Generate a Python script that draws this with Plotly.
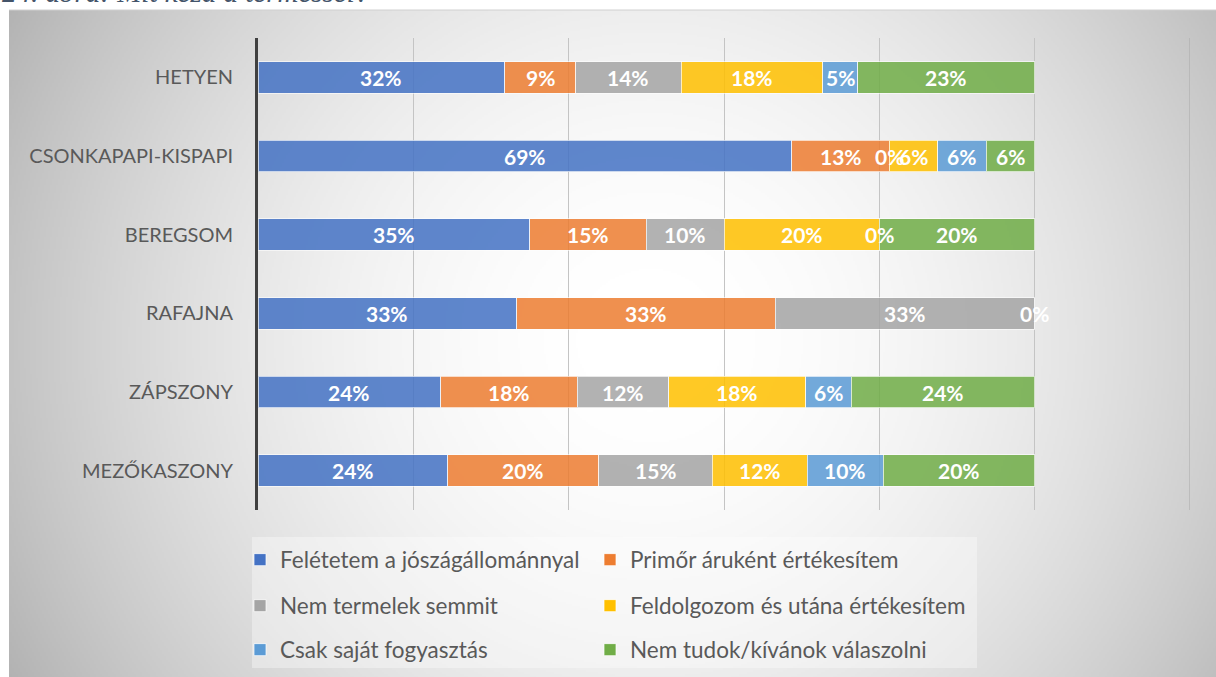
import base64, struct, zlib
import numpy as np
import plotly.graph_objects as go

# ---------------- data ----------------
categories = ["HETYEN", "CSONKAPAPI-KISPAPI", "BEREGSOM", "RAFAJNA", "ZÁPSZONY", "MEZŐKASZONY"]
series_names = [
    "Felétetem a jószágállománnyal",
    "Primőr áruként értékesítem",
    "Nem termelek semmit",
    "Feldolgozom és utána értékesítem",
    "Csak saját fogyasztás",
    "Nem tudok/kívánok válaszolni",
]
feletetem = [0.318, 0.6875, 0.35, 0.333, 0.235, 0.244]
primor = [0.091, 0.125, 0.15, 0.333, 0.176, 0.195]
nem_termelek = [0.136, 0.0, 0.10, 0.334, 0.118, 0.146]
feldolgozom = [0.182, 0.0625, 0.20, 0.0, 0.176, 0.122]
sajat = [0.045, 0.0625, 0.0, None, 0.059, 0.098]
nem_tudok = [0.228, 0.0625, 0.20, None, 0.236, 0.195]
x_ticks = [0, 0.2, 0.4, 0.6, 0.8, 1.0, 1.2]
caption = "24. ábra: Mit kezd a terméssel?"

series_values = [feletetem, primor, nem_termelek, feldolgozom, sajat, nem_tudok]
colors = ["#4472C4", "#ED7D31", "#A5A5A5", "#FFC000", "#5B9BD5", "#70AD47"]

# ---------------- layout geometry ----------------
W, H = 1216, 677
L, R, T, B = 258, 1190, 38, 510
PW, PH = R - L, B - T


def px_x(p):
    return (p - L) / PW


def px_y(p):
    return (B - p) / PH


# ---------------- background gradient (PNG data URI) ----------------
gx0, gy0, gx1, gy1 = 9, 10, W + 4, H + 20
gw, gh = (gx1 - gx0) // 2, (gy1 - gy0) // 2
xs = gx0 + (np.arange(gw) + 0.5) * (gx1 - gx0) / gw
ys = gy0 + (np.arange(gh) + 0.5) * (gy1 - gy0) / gh
XX, YY = np.meshgrid(xs, ys)
d = np.sqrt(((XX - 650) / 660) ** 2 + ((YY - 340) / 640) ** 2)
d = np.clip(d, 0, 1.15)
val = 256 - 64 * d ** 1.9
img = np.clip(val, 0, 255).astype(np.uint8)


def png_bytes(a):
    h, w = a.shape
    raw = b"".join(b"\x00" + a[i].tobytes() for i in range(h))

    def chunk(t, dat):
        return struct.pack(">I", len(dat)) + t + dat + struct.pack(">I", zlib.crc32(t + dat) & 0xFFFFFFFF)

    return (b"\x89PNG\r\n\x1a\n" + chunk(b"IHDR", struct.pack(">IIBBBBB", w, h, 8, 0, 0, 0, 0))
            + chunk(b"IDAT", zlib.compress(raw, 9)) + chunk(b"IEND", b""))


src = "data:image/png;base64," + base64.b64encode(png_bytes(img)).decode()

# ---------------- figure ----------------
legend_ids = ["legend", "legend2", "legend3", "legend4", "legend5", "legend6"]
legend_pos = [(240, 560), (590, 560), (240, 606), (590, 606), (240, 650), (590, 650)]

fig = go.Figure()
for name, vals, col, lg in zip(series_names, series_values, colors, legend_ids):
    fig.add_trace(go.Bar(
        y=categories, x=vals, name=name, orientation="h",
        marker=dict(color=col, opacity=0.85, line=dict(color="rgba(255,255,255,0.7)", width=1)),
        legend=lg, hoverinfo="skip",
    ))

# data labels
annotations = []
cum = [0.0] * len(categories)
for vals in series_values:
    for i, v in enumerate(vals):
        if v is None:
            continue
        mid = cum[i] + v / 2
        annotations.append(dict(
            x=mid, y=categories[i], xref="x", yref="y", showarrow=False,
            text=f"{int(v * 100 + 0.5)}%",
            font=dict(family="Lato", size=21, color="white", weight="bold"),
        ))
        cum[i] += v

annotations.append(dict(
    x=px_x(0), y=px_y(10), xref="paper", yref="paper", xanchor="left", yanchor="bottom",
    text=f"<i>{caption}</i>", showarrow=False,
    font=dict(family="Liberation Serif", size=29, color="#44546A"),
))

legend_common = dict(
    orientation="h", xanchor="left", yanchor="middle", entrywidth=0, traceorder="normal",
    font=dict(family="Lato", size=22.5, color="#595959"), bgcolor="rgba(0,0,0,0)",
    itemclick=False, itemdoubleclick=False,
)
legends = {lg: dict(legend_common, x=px_x(px), y=px_y(py)) for lg, (px, py) in zip(legend_ids, legend_pos)}

fig.update_layout(
    width=W, height=H,
    margin=dict(l=L, r=W - R, t=T, b=H - B, pad=0, autoexpand=False),
    paper_bgcolor="white", plot_bgcolor="rgba(0,0,0,0)",
    barmode="stack", bargap=0.6,
    showlegend=True,
    annotations=annotations,
    images=[dict(
        source=src, xref="paper", yref="paper",
        x=px_x(gx0), y=px_y(gy0), sizex=(gx1 - gx0) / PW, sizey=(gy1 - gy0) / PH,
        xanchor="left", yanchor="top", sizing="stretch", layer="below",
    )],
    shapes=[
        dict(type="line", xref="paper", yref="paper",
             x0=px_x(gx0), x1=px_x(W + 5), y0=px_y(gy0), y1=px_y(gy0),
             line=dict(color="#D0D0D0", width=1), layer="below"),
        dict(type="rect", xref="paper", yref="paper",
             x0=px_x(252), x1=px_x(977), y0=px_y(537), y1=px_y(668),
             line=dict(width=0), fillcolor="rgba(255,255,255,0.35)", layer="below"),
        dict(type="line", xref="x", yref="paper", x0=x_ticks[-1], x1=x_ticks[-1], y0=0, y1=1,
             line=dict(color="#A8A8A8", width=1), layer="below"),
    ],
    **legends,
)

fig.update_xaxes(
    range=[0, 1.2], tickvals=x_ticks, showticklabels=False, showgrid=True,
    gridcolor="#C4C4C4", gridwidth=1, zeroline=False, showline=False, fixedrange=True,
)
fig.update_yaxes(
    autorange="reversed", showgrid=False, showline=True, linecolor="#404040", linewidth=3,
    ticks="", ticklabelstandoff=18,
    tickfont=dict(family="Lato", size=20, color="#595959"), fixedrange=True,
)

fig.write_html(
    "out.html",
    config={"displayModeBar": False},
    post_script="document.body.style.margin='0';document.body.style.overflow='hidden';"
                "document.body.style.background='#D2D2D2';",
)
